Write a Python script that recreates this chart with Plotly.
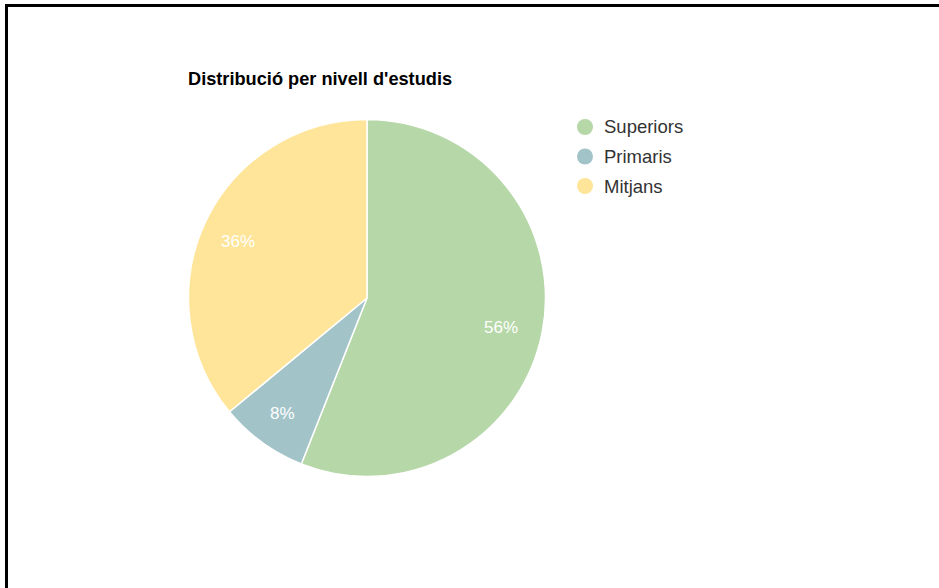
import math
import plotly.graph_objects as go

# Data
categories = ["Superiors", "Primaris", "Mitjans"]
values = [56, 8, 36]
colors = ["#b6d7a8", "#a2c4c9", "#ffe599"]
title_text = "Distribució per nivell d'estudis"

W, H = 939, 588
FONT = "Arial, Liberation Sans, sans-serif"

# pie geometry in pixels
cx, cy, R = 367, 298, 178.5


def px(x):
    return x / W


def py(y):
    return 1 - y / H


fig = go.Figure()
fig.add_trace(go.Pie(
    labels=categories,
    values=values,
    marker=dict(colors=colors, line=dict(color="white", width=1.5)),
    sort=False,
    direction="clockwise",
    rotation=0,
    textinfo="none",
    hoverinfo="label+percent",
    showlegend=False,
    domain=dict(x=[px(cx - R), px(cx + R)], y=[py(cy + R), py(cy - R)]),
))

annotations = []
# percentage labels placed at the middle angle of each slice
total = sum(values)
start = 0.0
for v in values:
    mid = (start + v / 2) / total * 2 * math.pi
    start += v
    r = 0.78 * R
    lx = cx + r * math.sin(mid) - 3
    ly = cy - r * math.cos(mid) + 3
    annotations.append(dict(
        x=px(lx), y=py(ly), xref="paper", yref="paper",
        text=f"{round(v / total * 100)}%", showarrow=False,
        font=dict(family=FONT, size=17, color="white"),
        xanchor="center", yanchor="middle",
    ))

# title
annotations.append(dict(
    x=px(186), y=py(79), xref="paper", yref="paper",
    text=f"<b>{title_text}</b>", showarrow=False,
    font=dict(family=FONT, size=18.2, color="#000000"),
    xanchor="left", yanchor="middle",
))

# legend with circular markers
shapes = []
leg_x, leg_y0, leg_dy, leg_r = 585, 127, 29.5, 8
for i, (name, col) in enumerate(zip(categories, colors)):
    yy = leg_y0 + i * leg_dy
    shapes.append(dict(
        type="circle", xref="paper", yref="paper",
        x0=px(leg_x - leg_r), x1=px(leg_x + leg_r),
        y0=py(yy + leg_r), y1=py(yy - leg_r),
        fillcolor=col, line=dict(width=0),
    ))
    annotations.append(dict(
        x=px(602), y=py(yy), xref="paper", yref="paper",
        text=name, showarrow=False,
        font=dict(family=FONT, size=18.5, color="#333333"),
        xanchor="left", yanchor="middle",
    ))

# frame lines on top and left
shapes.append(dict(type="line", xref="paper", yref="paper",
                   x0=px(5), x1=1, y0=py(5.5), y1=py(5.5),
                   line=dict(color="black", width=3)))
shapes.append(dict(type="line", xref="paper", yref="paper",
                   x0=px(6.5), x1=px(6.5), y0=py(4), y1=0,
                   line=dict(color="black", width=3)))

fig.update_layout(
    width=W, height=H,
    margin=dict(l=0, r=0, t=0, b=0),
    paper_bgcolor="white", plot_bgcolor="white",
    annotations=annotations,
    shapes=shapes,
    showlegend=False,
)

fig.write_html("out.html")
